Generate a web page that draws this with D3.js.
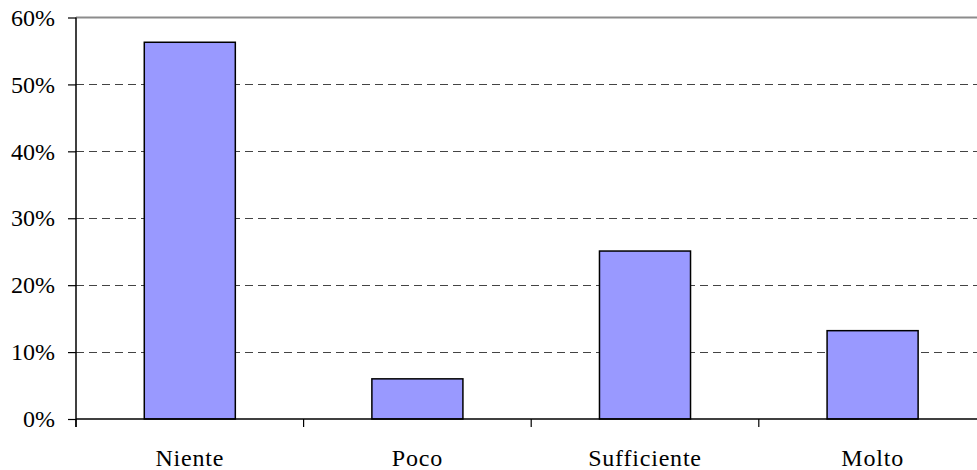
<!DOCTYPE html>
<html>
<head>
<meta charset="utf-8">
<script src="https://cdn.jsdelivr.net/npm/d3@7"></script>
<style>
  html, body { margin: 0; padding: 0; background: #fff; }
</style>
</head>
<body>
<svg id="chart" width="977" height="470"></svg>
<script>
// Quota di risposte per livello
const categories = ["Niente", "Poco", "Sufficiente", "Molto"];
const shares = [0.563, 0.06, 0.251, 0.132];
const yTicks = [0, 0.1, 0.2, 0.3, 0.4, 0.5, 0.6];

const serif = '"Liberation Serif"';
const svg = d3.select("#chart");
const plotLeft = 76, plotRight = 986.4, plotTop = 17.5, plotBottom = 419;

const x = d3.scaleBand()
  .domain(categories)
  .range([plotLeft, plotRight])
  .paddingInner(0.6)
  .paddingOuter(0.3);

const y = d3.scaleLinear().domain([0, 0.6]).range([plotBottom, plotTop]);
const pct = d3.format(".0%");

// griglia orizzontale tratteggiata
svg.append("g")
  .selectAll("line")
  .data(yTicks.filter(d => d > 0 && d < 0.6))
  .join("line")
  .attr("x1", plotLeft).attr("x2", 977)
  .attr("y1", d => Math.round(y(d)) + 0.5)
  .attr("y2", d => Math.round(y(d)) + 0.5)
  .attr("stroke", "#444")
  .attr("stroke-width", 1)
  .attr("stroke-dasharray", "8,5");

// bordo superiore
svg.append("line")
  .attr("x1", plotLeft).attr("x2", 977)
  .attr("y1", y(0.6)).attr("y2", y(0.6))
  .attr("stroke", "#8c8c8c")
  .attr("stroke-width", 2);

// barre
svg.append("g")
  .selectAll("rect")
  .data(categories.map((c, i) => ({ c, v: shares[i] })))
  .join("rect")
  .attr("x", d => x(d.c))
  .attr("y", d => y(d.v))
  .attr("width", x.bandwidth())
  .attr("height", d => y(0) - y(d.v))
  .attr("fill", "#9999ff")
  .attr("stroke", "#000")
  .attr("stroke-width", 1.5);

// asse Y
const yAxis = d3.axisLeft(y)
  .tickValues(yTicks)
  .tickFormat(pct)
  .tickSize(8)
  .tickPadding(13);
const gy = svg.append("g")
  .attr("transform", `translate(${plotLeft},0)`)
  .call(yAxis);
gy.select(".domain").attr("stroke", "#000").attr("stroke-width", 1.5).attr("d", `M0,${plotTop}V${plotBottom + 8}`);
gy.selectAll(".tick line").attr("stroke", "#000").attr("stroke-width", 1.2);
gy.selectAll(".tick text")
  .style("font-family", serif)
  .style("font-size", "24px")
  .attr("fill", "#000")
  .attr("dy", "0.32em");

// asse X con tacche ai confini delle categorie
svg.append("line")
  .attr("x1", plotLeft).attr("x2", 977)
  .attr("y1", plotBottom).attr("y2", plotBottom)
  .attr("stroke", "#000").attr("stroke-width", 1.5);

const step = x.step();
const boundaries = d3.range(categories.length + 1).map(i => plotLeft + i * step);
svg.append("g")
  .selectAll("line")
  .data(boundaries)
  .join("line")
  .attr("x1", d => d).attr("x2", d => d)
  .attr("y1", plotBottom).attr("y2", plotBottom + 8)
  .attr("stroke", "#000").attr("stroke-width", 1.2);

svg.append("g")
  .selectAll("text")
  .data(categories)
  .join("text")
  .attr("x", d => x(d) + x.bandwidth() / 2)
  .attr("y", 466)
  .attr("text-anchor", "middle")
  .style("font-family", serif)
  .style("font-size", "24px")
  .style("letter-spacing", "0.8px")
  .attr("fill", "#000")
  .text(d => d);
</script>
</body>
</html>
